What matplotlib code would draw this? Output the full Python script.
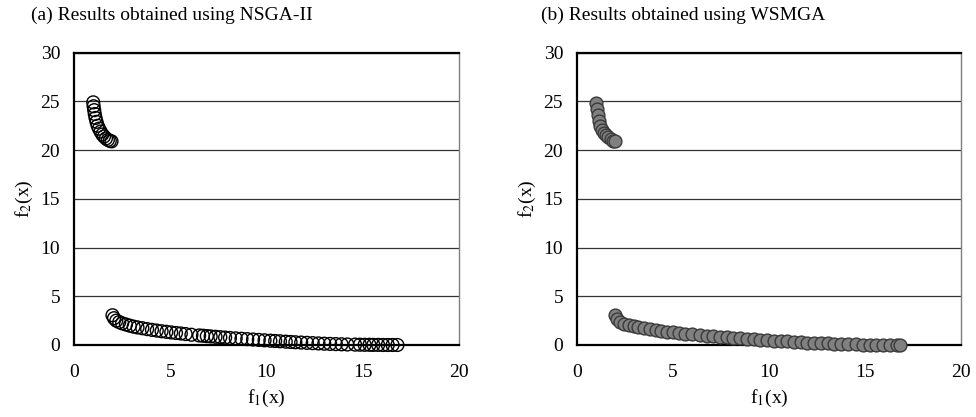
import matplotlib
matplotlib.use("Agg")
import matplotlib.pyplot as plt

plt.rcParams['font.family'] = ['Liberation Serif', 'DejaVu Serif']
plt.rcParams['mathtext.fontset'] = 'stix'

# NSGA-II Pareto front
nsga_f1 = [1.00, 1.02, 1.05, 1.08, 1.12, 1.17, 1.23, 1.30, 1.38, 1.47, 1.56, 1.66, 1.76, 1.86, 1.95,
           2.00, 2.08, 2.20, 2.35, 2.50, 2.70, 2.90, 3.10, 3.30, 3.55, 3.80, 4.05, 4.30, 4.55, 4.80,
           5.05, 5.30, 5.55, 5.80, 6.10, 6.50, 6.70, 6.90, 7.10, 7.35, 7.60, 7.85, 8.10, 8.40, 8.70,
           9.00, 9.30, 9.60, 9.90, 10.20, 10.45, 10.70, 11.00, 11.25, 11.50, 11.80, 12.10, 12.40,
           12.70, 13.00, 13.30, 13.60, 13.90, 14.20, 14.60, 14.85, 15.10, 15.35, 15.55, 15.80,
           16.05, 16.30, 16.55, 16.80]
nsga_f2 = [24.9, 24.5, 24.1, 23.7, 23.3, 22.9, 22.5, 22.2, 21.9, 21.6, 21.4, 21.2, 21.05, 20.95, 20.9,
           3.05, 2.75, 2.50, 2.35, 2.22, 2.10, 1.98, 1.88, 1.80, 1.72, 1.63, 1.55, 1.48, 1.41, 1.35,
           1.29, 1.23, 1.18, 1.12, 1.05, 0.98, 0.95, 0.91, 0.88, 0.84, 0.80, 0.76, 0.72, 0.68, 0.64,
           0.60, 0.56, 0.52, 0.48, 0.44, 0.41, 0.38, 0.34, 0.31, 0.28, 0.25, 0.22, 0.19,
           0.16, 0.13, 0.11, 0.09, 0.07, 0.05, 0.04, 0.03, 0.02, 0.02, 0.01, 0.01,
           0.00, 0.00, 0.00, 0.00]

# WSMGA Pareto front
wsmga_f1 = [1.00, 1.03, 1.07, 1.12, 1.20, 1.28, 1.38, 1.50, 1.62, 1.75, 1.88, 1.97,
            2.00, 2.10, 2.25, 2.45, 2.70, 2.95, 3.20, 3.50, 3.80, 4.10, 4.40, 4.70, 5.00,
            5.30, 5.65, 6.00, 6.40, 6.75, 7.10, 7.45, 7.80, 8.15, 8.50, 8.85, 9.20, 9.55,
            9.90, 10.25, 10.60, 10.95, 11.30, 11.65, 12.00, 12.35, 12.70, 13.05, 13.40,
            13.75, 14.10, 14.55, 14.90, 15.25, 15.60, 15.95, 16.30, 16.65, 16.85]
wsmga_f2 = [24.8, 24.2, 23.6, 23.0, 22.5, 22.1, 21.8, 21.5, 21.3, 21.1, 20.95, 20.9,
            3.10, 2.70, 2.40, 2.20, 2.05, 1.92, 1.82, 1.72, 1.62, 1.53, 1.45, 1.38, 1.31,
            1.24, 1.17, 1.10, 1.02, 0.96, 0.90, 0.84, 0.79, 0.74, 0.69, 0.64, 0.59, 0.54,
            0.50, 0.45, 0.41, 0.37, 0.33, 0.29, 0.25, 0.22, 0.19, 0.16, 0.13,
            0.10, 0.08, 0.05, 0.04, 0.03, 0.02, 0.01, 0.01, 0.00, 0.00]

titles = ["(a) Results obtained using NSGA-II", "(b) Results obtained using WSMGA"]
x_ticks = [0, 5, 10, 15, 20]
y_ticks = [0, 5, 10, 15, 20, 25, 30]

fig = plt.figure(figsize=(9.76, 4.17), dpi=100)
ax_a = fig.add_axes([0.0758, 0.1727, 0.3945, 0.701])
ax_b = fig.add_axes([0.5912, 0.1727, 0.3934, 0.701])

ax_a.scatter(nsga_f1, nsga_f2, s=85, facecolors='none', edgecolors='black',
             linewidths=1.0, zorder=3, clip_on=False)
ax_b.scatter(wsmga_f1, wsmga_f2, s=85, facecolors='#808080', edgecolors='#3a3a3a',
             linewidths=1.0, zorder=3, clip_on=False)

for ax in [ax_a, ax_b]:
    ax.set_xlim(0, 20)
    ax.set_ylim(0, 30)
    ax.set_xticks(x_ticks)
    ax.set_yticks(y_ticks)
    ax.tick_params(length=0, labelsize=14)
    ax.tick_params(axis='x', pad=14)
    ax.tick_params(axis='y', pad=10)
    ax.yaxis.grid(True, color='#333333', linewidth=0.9)
    ax.set_axisbelow(True)
    for side in ['left', 'bottom', 'top']:
        ax.spines[side].set_linewidth(1.6)
        ax.spines[side].set_color('black')
    ax.spines['right'].set_linewidth(1.0)
    ax.spines['right'].set_color('#7f7f7f')
    ax.set_xlabel(r'f$_1$(x)', fontsize=14, labelpad=5)
    ax.set_ylabel(r'f$_2$(x)', fontsize=14, labelpad=4)

# panel titles sit to the left of each plot area's centre
fig.text(172 / 976, 1 - 15 / 417, titles[0], fontsize=14, ha='center', va='center')
fig.text(683 / 976, 1 - 15 / 417, titles[1], fontsize=14, ha='center', va='center')

fig.savefig('out.png', dpi=100)
